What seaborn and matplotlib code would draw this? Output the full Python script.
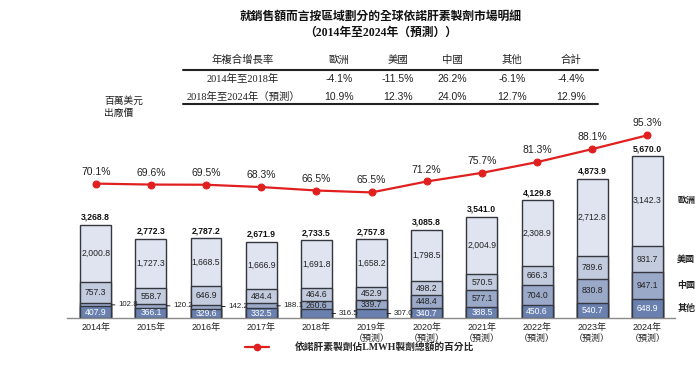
import numpy as np
import pandas as pd
import matplotlib
matplotlib.use("Agg")
import matplotlib.pyplot as plt
from matplotlib.lines import Line2D
import seaborn as sns

# ---------------- data ----------------
years = ["2014", "2015", "2016", "2017", "2018", "2019", "2020", "2021", "2022", "2023", "2024"]
tick_labels = ["2014年", "2015年", "2016年", "2017年", "2018年",
               "2019年\n（預測）", "2020年\n（預測）", "2021年\n（預測）",
               "2022年\n（預測）", "2023年\n（預測）", "2024年\n（預測）"]
others = [407.9, 366.1, 329.6, 332.5, 316.5, 307.0, 340.7, 388.5, 450.6, 540.7, 648.9]
china = [102.8, 120.2, 142.2, 188.1, 260.6, 339.7, 448.4, 577.1, 704.0, 830.8, 947.1]
usa = [757.3, 558.7, 646.9, 484.4, 464.6, 452.9, 498.2, 570.5, 666.3, 789.6, 931.7]
europe = [2000.8, 1727.3, 1668.5, 1666.9, 1691.8, 1658.2, 1798.5, 2004.9, 2308.9, 2712.8, 3142.3]
totals = [3268.8, 2772.3, 2787.2, 2671.9, 2733.5, 2757.8, 3085.8, 3541.0, 4129.8, 4873.9, 5670.0]
share_pct = [70.1, 69.6, 69.5, 68.3, 66.5, 65.5, 71.2, 75.7, 81.3, 88.1, 95.3]

region_names = ["歐洲", "美國", "中國", "其他"]
title_lines = ["就銷售額而言按區域劃分的全球依諾肝素製劑市場明細", "（2014年至2024年（預測））"]
unit_label = "百萬美元\n出廠價"
legend_label = "依諾肝素製劑佔LMWH製劑總額的百分比"

cagr_header = ["年複合增長率", "歐洲", "美國", "中國", "其他", "合計"]
cagr_periods = ["2014年至2018年", "2018年至2024年（預測）"]
cagr_europe = ["-4.1%", "10.9%"]
cagr_usa = ["-11.5%", "12.3%"]
cagr_china = ["26.2%", "24.0%"]
cagr_others = ["-6.1%", "12.7%"]
cagr_total = ["-4.4%", "12.9%"]

# ---------------- style ----------------
sns.set_theme(style="white")
plt.rcParams["font.family"] = ["Liberation Sans", "Noto Sans CJK TC"]
SERIF = ["Liberation Serif", "Noto Sans CJK TC"]

col_eu = "#dfe4f0"
col_us = "#c3cbde"
col_cn = "#9ba9c8"
col_ot = "#6a81af"
edge = "#34373f"
red = "#e0201f"

df = pd.DataFrame({"year": years, "others": others, "china": china, "usa": usa, "europe": europe})
df["c_ot"] = df["others"]
df["c_cn"] = df["c_ot"] + df["china"]
df["c_us"] = df["c_cn"] + df["usa"]
df["c_eu"] = df["c_us"] + df["europe"]

fig = plt.figure(figsize=(7.0, 3.68), dpi=100)
W, H = 700, 368
ax = fig.add_axes([67 / W, 50 / H, 608 / W, 190 / H])

bw = 0.56
for col, c in [("c_eu", col_eu), ("c_us", col_us), ("c_cn", col_cn), ("c_ot", col_ot)]:
    sns.barplot(data=df, x="year", y=col, color=c, width=bw, edgecolor=edge,
                linewidth=1.0, saturation=1, ax=ax, zorder=2)

ax.set_xlim(-0.52, 10.5)
ax.set_ylim(0, 6643)
ax.set_xlabel("")
ax.set_ylabel("")
ax.set_yticks([])
ax.set_xticks(range(len(years)))
ax.set_xticklabels(tick_labels, fontsize=6.5, color="#222222", linespacing=1.25)
ax.tick_params(axis="x", length=0, pad=3.5)
for s in ["top", "right", "left"]:
    ax.spines[s].set_visible(False)
ax.spines["bottom"].set_color("#8a8a8a")
ax.spines["bottom"].set_linewidth(1.0)

# segment labels
external = {0: "china", 1: "china", 2: "china", 3: "china", 4: "others", 5: "others"}
layers = [("others", 0), ("china", "c_ot"), ("usa", "c_cn"), ("europe", "c_us")]
for i in range(len(years)):
    for name, base in layers:
        v = df.loc[i, name]
        b = 0 if base == 0 else df.loc[i, base]
        yc = b + v / 2
        txt = f"{v:,.1f}"
        if external.get(i) == name:
            ax.annotate(txt, xy=(i + bw / 2, yc), xytext=(5, 0), textcoords="offset points",
                        ha="left", va="center", fontsize=5.7, color="#222222",
                        arrowprops=dict(arrowstyle="-", lw=0.7, color="#222222",
                                        shrinkA=0, shrinkB=0))
            continue
        if name == "others" and i in (4, 5):
            continue
        ax.text(i, yc, txt, ha="center", va="center", fontsize=6.2,
                color="white" if name == "others" else "#222222", zorder=5)
    ax.annotate(f"{totals[i]:,.1f}", xy=(i, totals[i]), xytext=(0, 2),
                textcoords="offset points", ha="center", va="bottom",
                fontsize=6.2, fontweight="bold", color="#111111")

# region labels at right (2024 bar)
last = len(years) - 1
for name, key, base in [("歐洲", "europe", "c_us"), ("美國", "usa", "c_cn"),
                        ("中國", "china", "c_ot"), ("其他", "others", None)]:
    b = 0 if base is None else df.loc[last, base]
    yc = b + df.loc[last, key] / 2
    ax.annotate(name, xy=(last, yc), xytext=(21.5, 0), textcoords="offset points",
                ha="left", va="center", fontsize=6.5, fontweight="bold",
                family=SERIF, color="#222222")

# percentage line
ax2 = ax.twinx()
ax2.set_position(ax.get_position())
sns.lineplot(x=np.arange(len(years)), y=share_pct, ax=ax2, color=red, lw=1.6,
             marker="o", markersize=5, markeredgecolor=red, zorder=6)
ax2.set_ylim(0, 99.1)
ax2.set_xlim(-0.52, 10.5)
ax2.axis("off")
for i, p in enumerate(share_pct):
    ax2.annotate(f"{p:.1f}%", xy=(i, p), xytext=(0, 5), textcoords="offset points",
                 ha="center", va="bottom", fontsize=7.5, color="#222222")

# title
fig.text(381 / W, 1 - 17 / H, title_lines[0], ha="center", va="center", fontsize=8.5,
         fontweight="bold", family=SERIF, color="#111111")
fig.text(381 / W, 1 - 33 / H, title_lines[1], ha="center", va="center", fontsize=8.5,
         fontweight="bold", family=SERIF, color="#111111")

# CAGR table
col_x = [243, 339, 398, 452, 512, 571]
for x, h in zip(col_x, cagr_header):
    fig.text(x / W, 1 - 60 / H, h, ha="center", va="center", fontsize=7.5,
             family=SERIF, color="#222222")
rows = [cagr_europe, cagr_usa, cagr_china, cagr_others, cagr_total]
for r, ypx in enumerate([79, 97]):
    fig.text(col_x[0] / W, 1 - ypx / H, cagr_periods[r], ha="center", va="center",
             fontsize=7.5, family=SERIF, color="#222222")
    for c, vals in enumerate(rows):
        fig.text(col_x[c + 1] / W, 1 - ypx / H, vals[r], ha="center", va="center",
                 fontsize=7.5, color="#222222")
for ypx in (70, 104):
    fig.add_artist(Line2D([183 / W, 598 / W], [1 - ypx / H, 1 - ypx / H],
                          transform=fig.transFigure, color="#222222", lw=1.5))

# unit label
fig.text(104 / W, 1 - 107 / H, unit_label, ha="left", va="center", fontsize=7,
         family=SERIF, color="#222222", linespacing=1.3)

# legend
handle = Line2D([], [], color=red, lw=1.6, marker="o", markersize=4.5)
fig.legend(handles=[handle], labels=[legend_label], loc="center left",
           bbox_to_anchor=(245 / W, 1 - 347 / H), frameon=False,
           prop=dict(family=SERIF, size=7, weight="bold"),
           handlelength=2.5, handletextpad=2.6, borderpad=0, borderaxespad=0)

fig.savefig("out.png", dpi=100)
